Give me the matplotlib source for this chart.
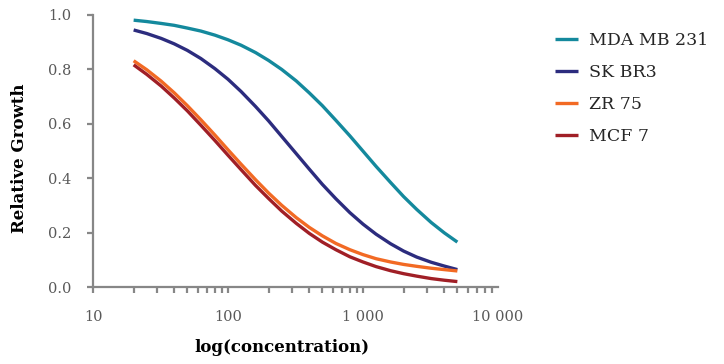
import matplotlib
matplotlib.use("Agg")
import matplotlib.pyplot as plt
from matplotlib.ticker import FixedLocator, FixedFormatter, LogLocator, NullFormatter

# Dose-response data: relative growth of four breast cancer cell lines
concentration = [20, 25, 32, 40, 50, 63, 80, 100, 125, 160, 200, 250, 320,
                 400, 500, 630, 800, 1000, 1250, 1600, 2000, 2500, 3200, 4000, 5000]

mda_mb_231 = [0.981, 0.976, 0.969, 0.962, 0.952, 0.941, 0.926, 0.909, 0.889,
              0.862, 0.833, 0.800, 0.758, 0.714, 0.667, 0.613, 0.556, 0.500,
              0.444, 0.385, 0.333, 0.286, 0.238, 0.200, 0.166]

sk_br3 = [0.945, 0.932, 0.914, 0.894, 0.870, 0.840, 0.803, 0.764, 0.719,
          0.664, 0.611, 0.554, 0.491, 0.434, 0.378, 0.325, 0.274, 0.232,
          0.195, 0.160, 0.133, 0.111, 0.092, 0.078, 0.065]

zr_75 = [0.832, 0.799, 0.757, 0.714, 0.667, 0.615, 0.559, 0.505, 0.452,
         0.395, 0.346, 0.301, 0.256, 0.220, 0.189, 0.161, 0.138, 0.120,
         0.105, 0.093, 0.084, 0.077, 0.070, 0.065, 0.060]

mcf_7 = [0.817, 0.782, 0.739, 0.695, 0.648, 0.595, 0.539, 0.485, 0.432,
         0.374, 0.326, 0.280, 0.235, 0.198, 0.166, 0.138, 0.112, 0.093,
         0.076, 0.061, 0.050, 0.041, 0.032, 0.026, 0.021]

series_names = ["MDA MB 231", "SK BR3", "ZR 75", "MCF 7"]
series_values = [mda_mb_231, sk_br3, zr_75, mcf_7]
series_colors = ["#14899D", "#2C2C7E", "#F26A24", "#A01F26"]

x_ticks = [10, 100, 1000, 10000]
x_tick_labels = ["10", "100", "1 000", "10 000"]
y_ticks = [0.0, 0.2, 0.4, 0.6, 0.8, 1.0]
y_tick_labels = ["0.0", "0.2", "0.4", "0.6", "0.8", "1.0"]

plt.rcParams["font.family"] = ["DejaVu Serif"]

fig = plt.figure(figsize=(7.24, 3.64), dpi=100)
ax = fig.add_axes([93 / 724, 1 - 287.3 / 364, 405 / 724, 272.3 / 364])

lines = []
for name, vals, col in zip(series_names, series_values, series_colors):
    ln, = ax.plot(concentration, vals, color=col, lw=2.4, label=name,
                  solid_capstyle="butt", solid_joinstyle="round")
    lines.append(ln)

ax.set_xscale("log")
ax.set_xlim(10, 10000)
ax.set_ylim(0, 1.0)

axis_grey = "#878787"
label_grey = "#595959"

for side in ("top", "right"):
    ax.spines[side].set_visible(False)
for side in ("left", "bottom"):
    ax.spines[side].set_color(axis_grey)
    ax.spines[side].set_linewidth(1.6)

ax.xaxis.set_major_locator(FixedLocator(x_ticks))
ax.xaxis.set_major_formatter(FixedFormatter(x_tick_labels))
ax.xaxis.set_minor_locator(LogLocator(base=10, subs=range(2, 10), numticks=20))
ax.xaxis.set_minor_formatter(NullFormatter())
ax.yaxis.set_major_locator(FixedLocator(y_ticks))
ax.yaxis.set_major_formatter(FixedFormatter(y_tick_labels))

ax.tick_params(axis="both", which="both", direction="out", color=axis_grey,
               width=1.6, labelcolor=label_grey, labelsize=10.5)
ax.tick_params(axis="x", which="major", length=4.5, pad=12)
ax.tick_params(axis="x", which="minor", length=4)
ax.tick_params(axis="y", which="major", length=4.5, pad=11)
ax.xaxis.get_major_ticks()[-1].tick1line.set_visible(False)

fig.text(282 / 724, 1 - 348 / 364, "log(concentration)", ha="center",
         va="center", fontsize=12, fontweight="bold", color="black")
fig.text(20 / 724, 1 - 158 / 364, "Relative Growth", ha="center",
         va="center", rotation=90, fontsize=12, fontweight="bold", color="black")

ax.legend(handles=lines, loc="upper left", bbox_to_anchor=(555 / 724, 1 - 32 / 364),
          bbox_transform=fig.transFigure, frameon=False, fontsize=12.5,
          handlelength=1.33, handletextpad=0.62, labelspacing=0.86,
          borderpad=0, borderaxespad=0, labelcolor="#262626")

fig.savefig("out.png", dpi=100)
